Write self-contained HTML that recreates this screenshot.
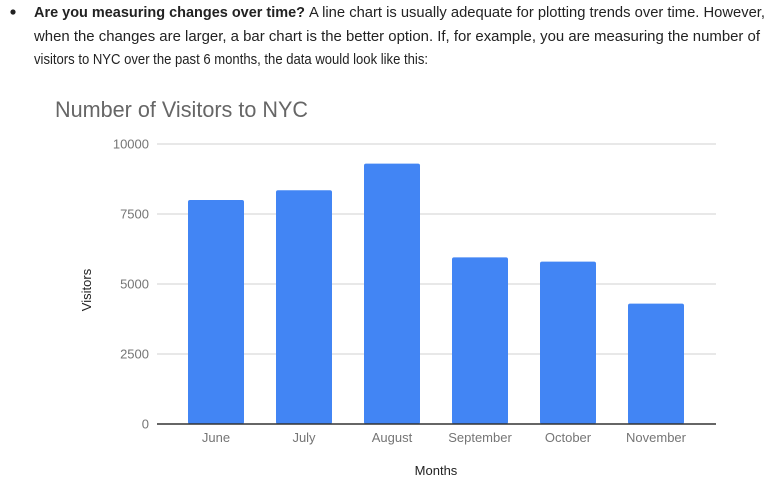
<!DOCTYPE html>
<html><head><meta charset="utf-8">
<style>
html,body{margin:0;padding:0;background:#fff;}
svg{display:block;}
.p{font-family:"Liberation Sans",sans-serif;font-size:15px;fill:#222;}
.t{font-family:"Liberation Sans",sans-serif;fill:#757575;}
</style></head>
<body>
<svg id="c" width="780" height="484" viewBox="0 0 780 484">
  <g>
    <circle cx="13" cy="12" r="2.6" fill="#222"/>
    <text class="p" x="34" y="17" font-weight="bold" textLength="271" lengthAdjust="spacingAndGlyphs">Are you measuring changes over time?</text>
    <text class="p" x="309" y="17" textLength="456" lengthAdjust="spacingAndGlyphs">A line chart is usually adequate for plotting trends over time. However,</text>
    <text class="p" x="34" y="41" textLength="726" lengthAdjust="spacingAndGlyphs">when the changes are larger, a bar chart is the better option. If, for example, you are measuring the number of</text>
    <text class="p" x="34" y="64" textLength="394" lengthAdjust="spacingAndGlyphs">visitors to NYC over the past 6 months, the data would look like this:</text>
  </g>
  <text class="t" x="55" y="117" font-size="22" style="fill:#666" textLength="253" lengthAdjust="spacingAndGlyphs">Number of Visitors to NYC</text>
  <g id="grid"></g>
  <g id="bars"></g>
  <g id="xlabels"></g>
  <line x1="157" y1="424" x2="716" y2="424" stroke="#333" stroke-width="1.5"/>
  <text class="t" x="436" y="475" font-size="13" style="fill:#222" text-anchor="middle">Months</text>
  <text class="t" x="0" y="0" font-size="13" style="fill:#222" text-anchor="middle" transform="translate(91,290) rotate(-90)">Visitors</text>
</svg>
<script>
const categories = ["June","July","August","September","October","November"];
const visitors = [8000,8350,9300,5950,5800,4300];
const yTicks = [0,2500,5000,7500,10000];
const tickLabels = ["0","2500","5000","7500","10000"];

const NS="http://www.w3.org/2000/svg";
const y0=424, y1=144, yMax=10000;
const y=v=>y0-(v/yMax)*(y0-y1);
const bandStart=172, band=88, barW=56;
const x=i=>bandStart+i*band+(band-barW)/2;

const grid=document.getElementById('grid');
yTicks.forEach((v,i)=>{
  if(v!==0){
    const l=document.createElementNS(NS,'line');
    l.setAttribute('x1',157);l.setAttribute('x2',716);
    l.setAttribute('y1',y(v));l.setAttribute('y2',y(v));
    l.setAttribute('stroke','#d0d0d0');l.setAttribute('stroke-width','1');
    
    
    grid.appendChild(l);
  }
  const t=document.createElementNS(NS,'text');
  t.setAttribute('x',149);t.setAttribute('y',y(v)+4.5);
  t.setAttribute('text-anchor','end');t.setAttribute('class','t');
  t.setAttribute('font-size','13');
  t.textContent=tickLabels[i];
  
  
  grid.appendChild(t);
});
const bars=document.getElementById('bars');
const xl=document.getElementById('xlabels');
categories.forEach((c,i)=>{
  const r=document.createElementNS(NS,'rect');
  r.setAttribute('x',x(i));r.setAttribute('width',barW);
  r.setAttribute('y',y(visitors[i]));r.setAttribute('height',y0-y(visitors[i]));
  r.setAttribute('fill','#4285f4');r.setAttribute('rx','2');
  
  
  bars.appendChild(r);
  const t=document.createElementNS(NS,'text');
  t.setAttribute('x',x(i)+barW/2);t.setAttribute('y',442);
  t.setAttribute('text-anchor','middle');t.setAttribute('class','t');
  t.setAttribute('font-size','13');
  t.textContent=c;
  
  
  xl.appendChild(t);
});
</script>
</body></html>
